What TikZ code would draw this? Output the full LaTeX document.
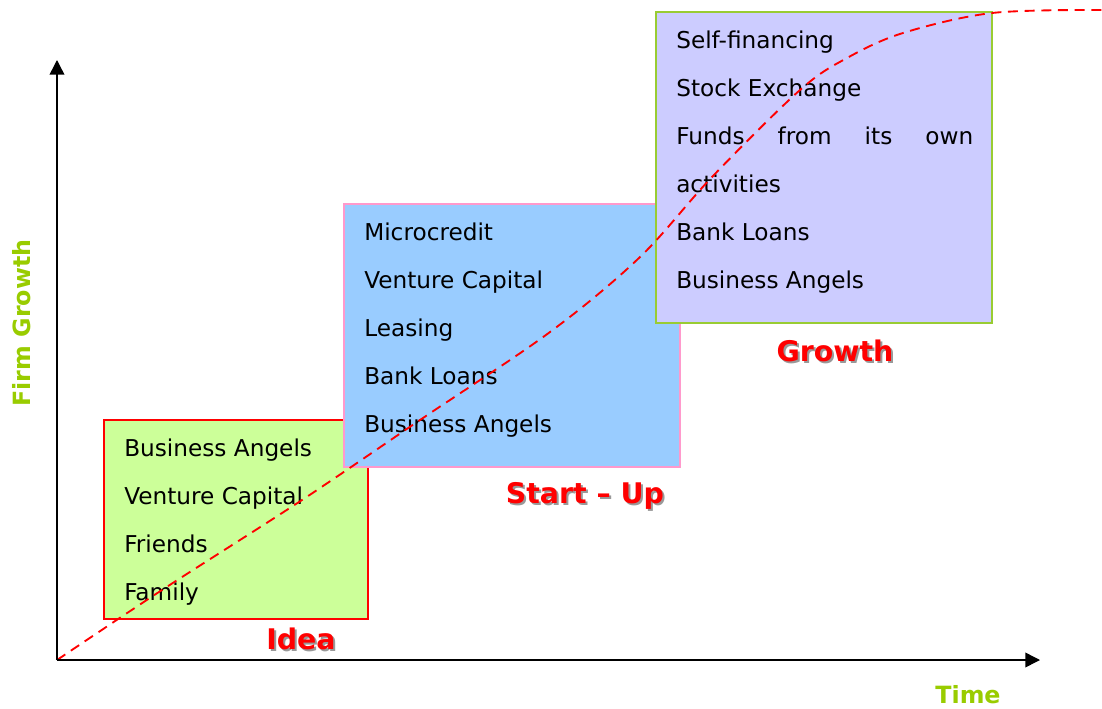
\documentclass[tikz,border=0pt]{standalone}
\usepackage{fontspec}
\setmainfont{DejaVu Sans}
\usetikzlibrary{arrows.meta, calc}
\definecolor{ideagreen}{HTML}{CCFF99}
\definecolor{startblue}{HTML}{99CCFF}
\definecolor{growthlilac}{HTML}{CCCCFF}
\definecolor{startpink}{HTML}{FF99CC}
\definecolor{growthedge}{HTML}{99CC33}
\definecolor{axisgreen}{HTML}{99CC00}
\definecolor{shadowgray}{HTML}{999999}

\begin{document}
\begin{tikzpicture}[
    x=0.75pt, y=-0.75pt,
    phase/.style={rectangle, inner sep=0pt, outer sep=0pt, line width=1pt},
    item/.style={anchor=base west, inner sep=0pt, font=\fontsize{17.4}{20}\selectfont},
    stage/.style={font=\fontsize{21.3}{25}\selectfont\bfseries, inner sep=0pt},
    axislabel/.style={font=\fontsize{17.8}{21}\selectfont\bfseries, text=axisgreen, inner sep=0pt},
    axis/.style={-{Triangle[length=11pt, width=11pt]}, line width=1.1pt},
    scurve/.style={red, line width=1.4pt, dash pattern=on 7.5pt off 5pt},
  ]
  \useasboundingbox (0,0) rectangle (1102,709);

  % Funding boxes, one per stage
  \node[phase, fill=ideagreen, draw=red, minimum width=198pt, minimum height=149.25pt] (idea) at (236,519.5) {};
  \node[phase, fill=startblue, draw=startpink, minimum width=252pt, minimum height=197.25pt] (startup) at (512,335.5) {};
  \node[phase, fill=growthlilac, draw=growthedge, minimum width=252pt, minimum height=233.25pt] (growth) at (824,167.5) {};

  % Sources of funds
  \foreach \txt [count=\i] in {Business Angels, Venture Capital, Friends, Family}
    \node[item] (idea-\i) at ($(idea.north west)+(20,{36.5+48*(\i-1)})$) {\txt};
  \foreach \txt [count=\i] in {Microcredit, Venture Capital, Leasing, Bank Loans, Business Angels}
    \node[item] (startup-\i) at ($(startup.north west)+(20,{36.5+48*(\i-1)})$) {\txt};
  \foreach \txt [count=\i] in {Self-financing, Stock Exchange, {\makebox[222.75pt][s]{Funds from its own}}, activities, Bank Loans, Business Angels}
    \node[item] (growth-\i) at ($(growth.north west)+(20,{36.5+48*(\i-1)})$) {\txt};

  % Growth curve
  \draw[scurve] plot[smooth, tension=0.55] coordinates {(57,660) (162,590) (302,500) (420,420) (550,332) (640,257) (712,177) (800,90) (847,58) (903,33) (992,13) (1102,10)};

  % Stage labels with shadow
  \node[stage, text=shadowgray] (idea-shadow) at (303,641) {Idea};
  \node[stage, text=red] (idea-label) at (301,639) {Idea};
  \node[stage, text=shadowgray] (startup-shadow) at (587,498) {Start -- Up};
  \node[stage, text=red] (startup-label) at (585,496) {Start -- Up};
  \node[stage, text=shadowgray] (growth-shadow) at (837,353) {Growth};
  \node[stage, text=red] (growth-label) at (835,351) {Growth};

  % Axes
  \coordinate (origin) at (57,660);
  \coordinate (ytip) at (57,60);
  \coordinate (xtip) at (1040,660);
  \draw[axis] (origin) -- (ytip);
  \draw[axis] (origin) -- (xtip);
  \node[axislabel, rotate=90] (ylabel) at (22,323) {Firm Growth};
  \node[axislabel] (xlabel) at (968,695) {Time};

\end{tikzpicture}
\end{document}
